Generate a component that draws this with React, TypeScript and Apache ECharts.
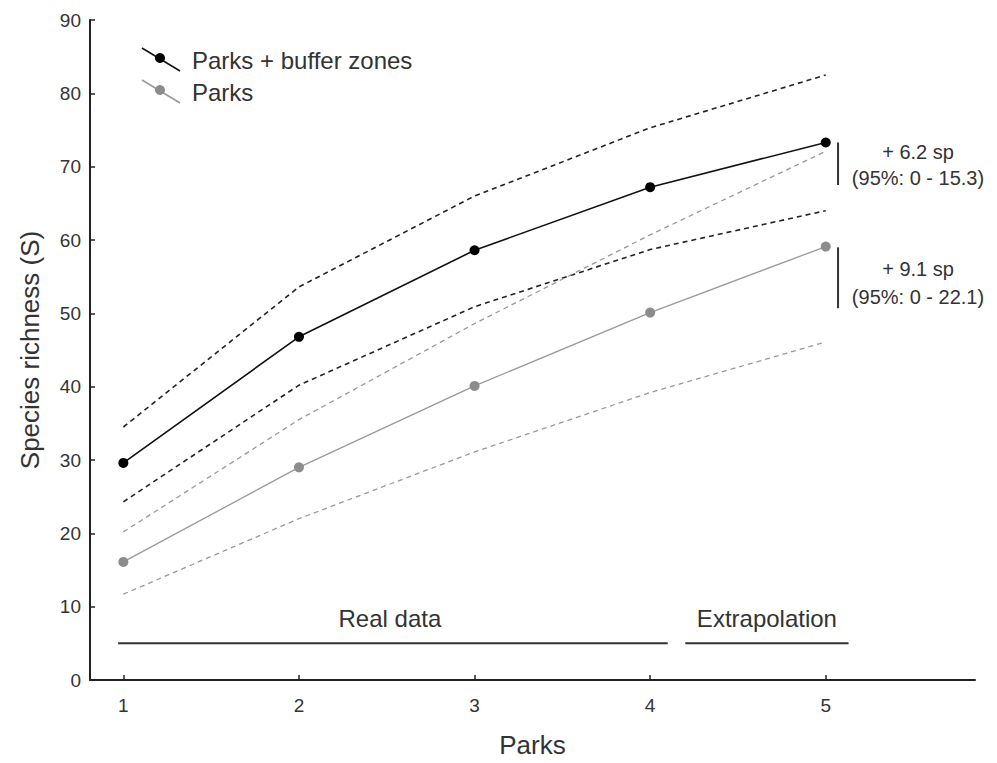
import React, { useEffect, useRef } from "react";
import * as echarts from "echarts";

// Number of parks on the x axis
const parks = [1, 2, 3, 4, 5];
const yTicks = [0, 10, 20, 30, 40, 50, 60, 70, 80, 90];

// Species richness, parks + buffer zones
const bufferMean = [29.6, 46.8, 58.6, 67.2, 73.3];
const bufferUpper = [34.5, 53.6, 66.0, 75.3, 82.5];
const bufferLower = [24.3, 40.2, 50.9, 58.7, 64.0];

// Species richness, parks only
const parksMean = [16.1, 29.0, 40.1, 50.1, 59.1];
const parksUpper = [20.2, 35.5, 48.6, 60.7, 72.1];
const parksLower = [11.7, 22.0, 31.1, 39.2, 46.1];

// Period brackets along the bottom
const realDataSpan = [0.97, 4.1];
const extrapolationSpan = [4.2, 5.13];
const spanLevel = 5;

// Extrapolated gains at five parks
const gainBracketX = 5.07;
const bufferGainRange = [73.3, 67.5];
const parksGainRange = [59.0, 50.7];
const bufferGainText = ["+ 6.2 sp", "(95%: 0 - 15.3)"];
const parksGainText = ["+ 9.1 sp", "(95%: 0 - 22.1)"];

const FONT = "Liberation Sans, Arial, sans-serif";
const DARK = "#111";
const GRAY = "#8c8c8c";
const TEXT = "#333";

const pairs = (ys: number[]) => parks.map((x, i) => [x, ys[i]]);

export default function App() {
  const ref = useRef<HTMLDivElement>(null);

  useEffect(() => {
    if (!ref.current) return;
    const chart = echarts.init(ref.current, null, { renderer: "svg" });

    const dashed = (name: string, ys: number[], color: string, width: number) => ({
      name,
      type: "line",
      data: pairs(ys),
      symbol: "none",
      lineStyle: { color, width, type: [5, 4] },
      z: 2,
    });
    const solid = (name: string, ys: number[], color: string, width: number, dot: string) => ({
      name,
      type: "line",
      data: pairs(ys),
      symbol: "circle",
      symbolSize: 10,
      itemStyle: { color: dot },
      lineStyle: { color, width },
      z: 3,
    });
    const segment = (name: string, pts: number[][], color: string, width: number) => ({
      name,
      type: "line",
      data: pts,
      symbol: "none",
      lineStyle: { color, width },
      z: 2,
    });

    chart.setOption({
      animation: false,
      backgroundColor: "#fff",
      grid: { left: 90, right: 22, top: 20, bottom: 83, containLabel: false },
      xAxis: {
        type: "value",
        min: 0.81,
        max: 5.85,
        name: "Parks",
        nameLocation: "middle",
        nameGap: 52,
        nameTextStyle: { fontFamily: FONT, fontSize: 26, color: TEXT },
        axisLine: { show: true, lineStyle: { color: "#222", width: 2 } },
        axisTick: {
          show: true,
          inside: true,
          length: 5,
          customValues: parks,
          lineStyle: { color: "#222", width: 1.5 },
        },
        axisLabel: {
          customValues: parks,
          margin: 16,
          fontFamily: FONT,
          fontSize: 19,
          color: TEXT,
        },
        splitLine: { show: false },
      },
      yAxis: {
        type: "value",
        min: 0,
        max: 90,
        interval: 10,
        name: "Species richness (S)",
        nameLocation: "middle",
        nameGap: 47,
        nameTextStyle: { fontFamily: FONT, fontSize: 26, color: TEXT },
        axisLine: { show: true, lineStyle: { color: "#222", width: 2 } },
        axisTick: {
          show: true,
          inside: true,
          length: 5,
          customValues: yTicks,
          lineStyle: { color: "#222", width: 1.5 },
        },
        axisLabel: {
          margin: 9,
          fontFamily: FONT,
          fontSize: 19,
          color: TEXT,
        },
        splitLine: { show: false },
      },
      series: [
        dashed("Buffer upper", bufferUpper, "#222", 1.6),
        dashed("Buffer lower", bufferLower, "#222", 1.6),
        dashed("Parks upper", parksUpper, "#999", 1.3),
        dashed("Parks lower", parksLower, "#999", 1.3),
        solid("Parks + buffer zones", bufferMean, DARK, 1.6, "#000"),
        solid("Parks", parksMean, "#999", 1.3, GRAY),
        segment("Real data", realDataSpan.map((x) => [x, spanLevel]), "#333", 2),
        segment("Extrapolation", extrapolationSpan.map((x) => [x, spanLevel]), "#333", 2),
        segment("Buffer gain", bufferGainRange.map((y) => [gainBracketX, y]), "#333", 2),
        segment("Parks gain", parksGainRange.map((y) => [gainBracketX, y]), "#333", 2),
      ],
    });

    // Pixel helper for annotation placement
    const px = (x: number, y: number) => chart.convertToPixel({ gridIndex: 0 }, [x, y]) as number[];
    const realMid = px((realDataSpan[0] + realDataSpan[1]) / 2, spanLevel);
    const extraMid = px((extrapolationSpan[0] + extrapolationSpan[1]) / 2, spanLevel);
    const bTop = px(gainBracketX, bufferGainRange[0]);
    const pTop = px(gainBracketX, parksGainRange[0]);

    const text = (x: number, y: number, t: string, size = 18, align = "center") => ({
      type: "text",
      x,
      y,
      style: {
        text: t,
        fill: TEXT,
        font: `${size}px ${FONT}`,
        textAlign: align,
        textVerticalAlign: "middle",
      },
    });

    const legendItem = (y: number, color: string, dot: string, label: string) => ({
      type: "group",
      children: [
        {
          type: "line",
          shape: { x1: 142, y1: y - 11, x2: 180, y2: y + 12 },
          style: { stroke: color, lineWidth: 1.5 },
        },
        { type: "circle", shape: { cx: 160, cy: y - 1, r: 5 }, style: { fill: dot } },
        text(192, y + 1, label, 24, "left"),
      ],
    });

    chart.setOption({
      graphic: [
        legendItem(59, DARK, "#000", "Parks + buffer zones"),
        legendItem(91, "#999", GRAY, "Parks"),
        text(realMid[0] - 3, realMid[1] - 25, "Real data", 24),
        text(extraMid[0], extraMid[1] - 25, "Extrapolation", 24),
        text(918, bTop[1] + 10, bufferGainText[0], 20),
        text(918, bTop[1] + 36, bufferGainText[1], 20),
        text(918, pTop[1] + 22, parksGainText[0], 20),
        text(918, pTop[1] + 50, parksGainText[1], 20),
      ],
    });

    return () => chart.dispose();
  }, []);

  return (
    <div
      ref={ref}
      style={{ position: "absolute", left: 0, top: 0, width: 997, height: 763 }}
    />
  );
}
